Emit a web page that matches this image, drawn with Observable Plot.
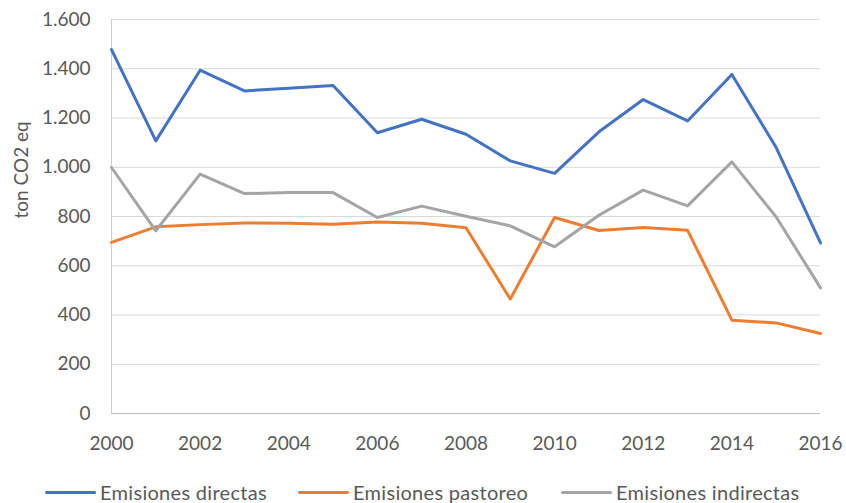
<!DOCTYPE html>
<html>
<head>
<meta charset="utf-8">
<script src="https://cdn.jsdelivr.net/npm/d3@7"></script>
<script src="https://cdn.jsdelivr.net/npm/@observablehq/plot@0.6"></script>
<style>
  body { margin: 0; background: #fff; font-family: Lato, "Open Sans", sans-serif; }
  #wrap { position: relative; width: 846px; height: 503px; overflow: hidden; }
  #legend { position: absolute; top: 480px; left: 0; width: 846px; height: 24px; font-size: 20px; letter-spacing: 0.3px; color: #595959; }
  .item { position: absolute; top: 0; display: flex; align-items: center; height: 24px; white-space: nowrap; }
  .sw { width: 51px; height: 3px; margin-right: 4px; border-radius: 2px; }
</style>
</head>
<body>
<div id="wrap"><div id="chart"></div><div id="legend"></div></div>
<script>
const years = [2000,2001,2002,2003,2004,2005,2006,2007,2008,2009,2010,2011,2012,2013,2014,2015,2016];
const directas   = [1478,1107,1394,1310,1321,1332,1140,1195,1134,1026,975,1144,1275,1188,1377,1080,693];
const pastoreo   = [695,758,767,774,773,769,778,773,754,465,796,743,755,744,379,368,325];
const indirectas = [999,742,972,893,897,897,796,842,801,762,677,805,907,843,1022,798,510];
const seriesNames = ["Emisiones directas","Emisiones pastoreo","Emisiones indirectas"];
const seriesColors = ["#4472C4","#ED7D31","#A5A5A5"];
const xTicks = [2000,2002,2004,2006,2008,2010,2012,2014,2016];
const yTicks = [0,200,400,600,800,1000,1200,1400,1600];
const yLabel = "ton CO2 eq";

const seriesValues = [directas, pastoreo, indirectas];
const data = [];
seriesNames.forEach((name, i) => {
  years.forEach((yr, j) => data.push({serie: name, year: yr, value: seriesValues[i][j]}));
});

const fmt = d3.formatLocale({decimal: ",", thousands: ".", grouping: [3], currency: ["", ""]}).format(",");

const plot = Plot.plot({
  width: 846,
  height: 460,
  marginLeft: 111,
  marginRight: 26,
  marginTop: 19,
  marginBottom: 47,
  style: {fontFamily: "Lato, 'Open Sans', sans-serif", fontSize: "19px", color: "#595959", background: "#fff"},
  x: {domain: [2000, 2016]},
  y: {domain: [0, 1600]},
  color: {domain: seriesNames, range: seriesColors},
  marks: [
    Plot.gridY(yTicks, {stroke: "#d9d9d9", strokeOpacity: 1, strokeWidth: 1}),
    Plot.ruleX([2000], {stroke: "#cfcfcf", strokeWidth: 1}),
    Plot.ruleY([0], {stroke: "#bfbfbf", strokeWidth: 1}),
    Plot.axisX(xTicks, {tickSize: 0, tickPadding: 23, tickFormat: d => String(d), label: null, fill: "#595959", fontSize: 19}),
    Plot.axisY(yTicks, {tickSize: 0, tickPadding: 21, tickFormat: fmt, label: null, fill: "#595959", fontSize: 19}),
    Plot.text([yLabel], {frameAnchor: "left", dx: -90, dy: 2, rotate: -90, fontSize: 19, fill: "#595959"}),
    Plot.line(data, {x: "year", y: "value", z: "serie", stroke: "serie", strokeWidth: 3, strokeLinejoin: "round", strokeLinecap: "round"})
  ]
});
document.getElementById("chart").appendChild(plot);

const legendLefts = [45, 298, 561];
const legend = document.getElementById("legend");
seriesNames.forEach((name, i) => {
  const it = document.createElement("div");
  it.className = "item";
  it.style.left = legendLefts[i] + "px";
  const sw = document.createElement("div");
  sw.className = "sw";
  sw.style.background = seriesColors[i];
  const tx = document.createElement("span");
  tx.textContent = name;
  it.appendChild(sw); it.appendChild(tx);
  legend.appendChild(it);
});
</script>
</body>
</html>
